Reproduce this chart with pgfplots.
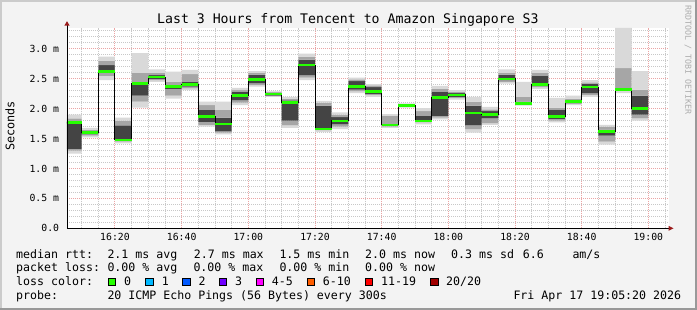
\documentclass[border=0pt]{standalone}
\usepackage{pgfplots}
\pgfplotsset{compat=1.18}
\usepackage{pgfplotstable}
\usepackage{fontspec}
\setmainfont{DejaVu Sans Mono}
\definecolor{bgc}{HTML}{F3F3F3}
\definecolor{shadea}{HTML}{CBCBCB}
\definecolor{shadeb}{HTML}{999999}
\definecolor{mgridc}{RGB}{235,165,165}
\definecolor{gridc}{RGB}{200,200,200}
\definecolor{arrowc}{HTML}{9B1B1B}
\definecolor{smokeA}{HTML}{D9D9D9}
\definecolor{smokeB}{HTML}{A6A6A6}
\definecolor{smokeC}{HTML}{444444}
\definecolor{medgreen}{HTML}{26FF00}
\definecolor{l0}{HTML}{26FF00}
\definecolor{l1}{HTML}{00B8FF}
\definecolor{l2}{HTML}{0059FF}
\definecolor{l3}{HTML}{7000FF}
\definecolor{l4}{HTML}{FF00FF}
\definecolor{l6}{HTML}{FF5E00}
\definecolor{l11}{HTML}{FF0000}
\definecolor{l20}{HTML}{A10000}

\pgfplotstableread{
t   lo   ml   dl   dh   mh   hi   med
5   1.25 1.30 1.33 1.76 1.84 1.90 1.77
10  1.52 1.55 1.57 1.62 1.65 1.68 1.60
15  2.48 2.55 2.60 2.73 2.80 2.87 2.62
20  1.42 1.45 1.47 1.72 1.80 1.85 1.48
25  2.02 2.12 2.22 2.42 2.60 2.93 2.42
30  2.45 2.48 2.50 2.56 2.60 2.66 2.53
35  2.17 2.22 2.33 2.40 2.45 2.62 2.37
40  2.31 2.34 2.37 2.45 2.58 2.65 2.40
45  1.70 1.73 1.78 1.98 2.06 2.12 1.87
50  1.57 1.60 1.62 1.85 1.98 2.12 1.745
55  2.06 2.10 2.14 2.28 2.31 2.35 2.22
60  2.37 2.40 2.43 2.57 2.60 2.63 2.49
65  2.20 2.21 2.22 2.27 2.28 2.29 2.245
70  1.68 1.72 1.80 2.14 2.17 2.20 2.10
75  2.48 2.52 2.56 2.82 2.87 2.92 2.73
80  1.61 1.64 1.66 2.05 2.10 2.13 1.66
85  1.66 1.70 1.74 1.86 1.90 1.94 1.795
90  2.26 2.29 2.32 2.46 2.49 2.52 2.37
95  2.20 2.23 2.25 2.36 2.39 2.41 2.285
100 1.68 1.70 1.72 1.74 1.88 1.91 1.73
105 2.02 2.03 2.04 2.06 2.07 2.09 2.05
110 1.74 1.77 1.79 1.88 1.96 2.01 1.795
115 1.82 1.85 1.88 2.28 2.33 2.38 2.185
120 2.15 2.18 2.20 2.26 2.28 2.31 2.23
125 1.60 1.66 1.72 2.05 2.12 2.20 1.93
130 1.73 1.76 1.84 1.96 1.99 2.03 1.905
135 2.42 2.45 2.48 2.57 2.60 2.66 2.50
140 2.05 2.07 2.09 2.12 2.20 2.45 2.09
145 2.33 2.36 2.40 2.55 2.60 2.65 2.41
150 1.77 1.80 1.83 1.98 2.02 2.18 1.87
155 2.06 2.08 2.10 2.14 2.17 2.22 2.12
160 2.20 2.23 2.26 2.42 2.44 2.48 2.36
165 1.40 1.45 1.55 1.65 1.70 1.73 1.615
170 2.26 2.30 2.32 2.32 2.68 3.35 2.32
175 1.80 1.84 1.90 2.22 2.32 2.63 2.00
180 1.80 1.84 1.90 2.22 2.32 2.63 2.00
}\smoke

\newcommand\lgf{\fontsize{11.6}{12}\selectfont}

\begin{document}
\begin{tikzpicture}
\fill[bgc] (0pt,0pt) rectangle (697pt,310pt);
\fill[shadea] (0pt,308pt) rectangle (697pt,310pt);
\fill[shadea] (0pt,0pt) rectangle (2pt,310pt);
\fill[shadeb] (0pt,0pt) rectangle (697pt,2pt);
\fill[shadeb] (695pt,0pt) rectangle (697pt,310pt);
\fill[white] (67pt,81.7pt) rectangle (669pt,282pt);

\begin{axis}[
  at={(67pt,81.7pt)}, anchor=south west,
  scale only axis, width=602pt, height=200.3pt,
  xmin=5.6, xmax=186.2, ymin=0, ymax=3.35,
  axis line style={draw=none},
  major tick length=0pt, minor tick length=0pt,
  xtick={20,40,60,80,100,120,140,160,180},
  xticklabels={16:20,16:40,17:00,17:20,17:40,18:00,18:20,18:40,19:00},
  minor xtick={10,15,25,30,35,45,50,55,65,70,75,85,90,95,105,110,115,125,130,135,145,150,155,165,170,175,185},
  ytick={0,0.5,1,1.5,2,2.5,3},
  yticklabels={0.0,0.5 m,1.0 m,1.5 m,2.0 m,2.5 m,3.0 m},
  minor ytick={0.1,0.2,0.3,0.4,0.6,0.7,0.8,0.9,1.1,1.2,1.3,1.4,1.6,1.7,1.8,1.9,2.1,2.2,2.3,2.4,2.6,2.7,2.8,2.9,3.1,3.2,3.3},
  xmajorgrids, ymajorgrids, xminorgrids, yminorgrids,
  major grid style={draw=mgridc, line width=1pt, dash pattern=on 1pt off 1pt},
  minor grid style={draw=gridc, line width=1pt, dash pattern=on 1pt off 1pt},
  tick label style={font=\fontsize{9.8}{10}\selectfont},
  xticklabel style={anchor=base, inner sep=0pt, yshift=-12.7pt},
  yticklabel style={anchor=east, inner sep=0pt, xshift=-7.7pt},
]
\addplot[stack plots=y, draw=none, const plot mark left, forget plot] table[x=t, y=lo] {\smoke};
\addplot[stack plots=y, draw=none, fill=smokeA, const plot mark left, forget plot] table[x=t, y expr=\thisrow{ml}-\thisrow{lo}] {\smoke} \closedcycle;
\addplot[stack plots=y, draw=none, fill=smokeB, const plot mark left, forget plot] table[x=t, y expr=\thisrow{dl}-\thisrow{ml}] {\smoke} \closedcycle;
\addplot[stack plots=y, draw=none, fill=smokeC, const plot mark left, forget plot] table[x=t, y expr=\thisrow{dh}-\thisrow{dl}] {\smoke} \closedcycle;
\addplot[stack plots=y, draw=none, fill=smokeB, const plot mark left, forget plot] table[x=t, y expr=\thisrow{mh}-\thisrow{dh}] {\smoke} \closedcycle;
\addplot[stack plots=y, draw=none, fill=smokeA, const plot mark left, forget plot] table[x=t, y expr=\thisrow{hi}-\thisrow{mh}] {\smoke} \closedcycle;
\addplot[stack plots=false, black, line width=1pt, const plot mark left, forget plot] table[x=t, y=med] {\smoke};
\addplot[stack plots=false, medgreen, line width=2.6pt, jump mark left, forget plot] table[x=t, y=med] {\smoke};
\end{axis}

% axes
\draw[black, line width=1pt] (67pt,81.7pt) -- (67pt,285pt);
\draw[black, line width=1pt] (67pt,81.7pt) -- (669pt,81.7pt);
\fill[arrowc] (64.3pt,284.3pt) -- (69.7pt,284.3pt) -- (67pt,288.8pt) -- cycle;
\fill[arrowc] (668.5pt,84.2pt) -- (668.5pt,79.2pt) -- (673.5pt,81.7pt) -- cycle;

% title and labels
\node[anchor=base, inner sep=0pt] at (347.9pt,286pt) {\fontsize{13.2}{14}\selectfont Last 3 Hours from Tencent to Amazon Singapore S3};
\node[rotate=90, inner sep=0pt] at (10pt,184pt) {\fontsize{11.8}{12}\selectfont Seconds};
\node[rotate=-90, inner sep=0pt, text=shadeb!80] at (688pt,250pt) {\fontsize{8.3}{9}\selectfont RRDTOOL / TOBI OETIKER};

% legend rows
\begin{scope}[every node/.style={anchor=base west, inner sep=0pt, font=\lgf}]
\node at (16pt,51.7pt) {median rtt:};
\node at (107.3pt,51.7pt) {2.1 ms avg};
\node at (193.7pt,51.7pt) {2.7 ms max};
\node at (279.3pt,51.7pt) {1.5 ms min};
\node at (365pt,51.7pt) {2.0 ms now};
\node at (451pt,51.7pt) {0.3 ms sd};
\node at (522.7pt,51.7pt) {6.6};
\node at (572.3pt,51.7pt) {am/s};

\node at (16pt,38.1pt) {packet loss:};
\node at (107.3pt,38.1pt) {0.00 \% avg};
\node at (193.3pt,38.1pt) {0.00 \% max};
\node at (279.3pt,38.1pt) {0.00 \% min};
\node at (365pt,38.1pt) {0.00 \% now};

\node at (16pt,24.5pt) {loss color:};
\node at (124pt,24.5pt) {0};
\node at (161.7pt,24.5pt) {1};
\node at (198.3pt,24.5pt) {2};
\node at (235pt,24.5pt) {3};
\node at (271.7pt,24.5pt) {4-5};
\node at (322.7pt,24.5pt) {6-10};
\node at (381pt,24.5pt) {11-19};
\node at (446pt,24.5pt) {20/20};

\node at (16pt,10.9pt) {probe:};
\node at (107.3pt,10.9pt) {20 ICMP Echo Pings (56 Bytes) every 300s};
\node at (513.3pt,10.9pt) {Fri Apr 17 19:05:20 2026};
\end{scope}

\foreach \bx/\bc in {108.3/l0,145.7/l1,182.7/l2,219.3/l3,256.2/l4,307.3/l6,365.3/l11,430.7/l20}{
  \filldraw[fill=\bc, draw=black, line width=0.9pt] (\bx pt,24.2pt) rectangle ++(7.4pt,7.4pt);
}

\pgfresetboundingbox
\useasboundingbox (0pt,0pt) rectangle (697pt,310pt);
\end{tikzpicture}
\end{document}
